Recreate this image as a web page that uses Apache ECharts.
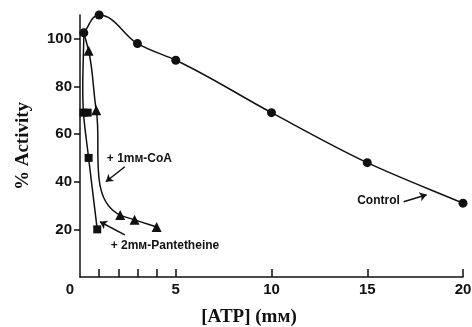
<!DOCTYPE html>
<html>
<head>
<meta charset="utf-8">
<script src="https://cdn.jsdelivr.net/npm/echarts@6/dist/echarts.min.js"></script>
<style>
  html, body { margin: 0; padding: 0; background: #fff; }
  #chart { width: 472px; height: 327px; }
</style>
</head>
<body>
<div id="chart"></div>
<script>
// [ATP] in mM, activity in %
const controlData = [[0.2, 102.5], [1, 110], [3, 98], [5, 91], [10, 69], [15, 48], [20, 31]];
// CoA and pantetheine curves both leave from the first control point
const coaData = [[0.2, 102.5], [0.45, 95], [0.85, 70], [2.1, 26], [2.85, 24], [4, 21]];
const pantData = [[0.2, 102.5], [0.18, 69], [0.45, 50], [0.9, 20]];
const pantExtra = [[0.4, 69]];

const xTicks = [1, 2, 3, 4, 5, 10, 15, 20];
const xLabels = [0, 5, 10, 15, 20];
const yLabels = [20, 40, 60, 80, 100];

// annotation arrows [from, to] and text anchors, in data units
const coaArrow = [[2.34, 46.3], [1.35, 40]];
const pantArrow = [[2.34, 17.7], [1.04, 23.2]];
const controlArrow = [[16.9, 31.6], [18.1, 34.5]];
const notes = [
  { text: "+ 1mм-CoA", at: [1.4, 49.5], align: "left" },
  { text: "+ 2mм-Pantetheine", at: [1.6, 13], align: "left" },
  { text: "Control", at: [16.7, 32], align: "right" }
];

const black = "#111";

// hand-drawn looking curve: bezier through the points, tangent from the
// parabola through neighbours, flattened at peaks
function curvePath(pts) {
  const n = pts.length;
  const norm = v => {
    const l = Math.hypot(v[0], v[1]) || 1;
    return [v[0] / l, v[1] / l];
  };
  const tan = pts.map((p, i) => {
    if (i === 0) return norm([pts[1][0] - p[0], pts[1][1] - p[1]]);
    if (i === n - 1) return norm([p[0] - pts[i - 1][0], p[1] - pts[i - 1][1]]);
    const d0 = [p[0] - pts[i - 1][0], p[1] - pts[i - 1][1]];
    const d1 = [pts[i + 1][0] - p[0], pts[i + 1][1] - p[1]];
    const l0 = Math.hypot(d0[0], d0[1]);
    const l1 = Math.hypot(d1[0], d1[1]);
    let t = [l1 * d0[0] / l0 + l0 * d1[0] / l1, l1 * d0[1] / l0 + l0 * d1[1] / l1];
    if (d0[1] * d1[1] < 0) t[1] = 0;
    return norm(t);
  });
  let d = "M" + pts[0][0] + " " + pts[0][1];
  for (let i = 0; i < n - 1; i++) {
    const a = pts[i], b = pts[i + 1];
    const l = Math.hypot(b[0] - a[0], b[1] - a[1]) / 3;
    d += " C" + (a[0] + tan[i][0] * l) + " " + (a[1] + tan[i][1] * l) + " " +
      (b[0] - tan[i + 1][0] * l) + " " + (b[1] - tan[i + 1][1] * l) + " " + b[0] + " " + b[1];
  }
  return d;
}

function curveSeries(arr) {
  return {
    type: "custom",
    data: arr,
    silent: true,
    z: 1,
    renderItem: (params, api) => {
      if (params.dataIndex !== 0) return null;
      const pts = arr.map(p => api.coord(p));
      return {
        type: "path",
        shape: { pathData: curvePath(pts) },
        style: { fill: null, stroke: black, lineWidth: 1.5 }
      };
    }
  };
}

function markers(arr, symbol, size) {
  return {
    type: "scatter",
    data: arr,
    symbol: symbol,
    symbolSize: size,
    z: 3,
    itemStyle: { color: black, opacity: 1 }
  };
}

function arrow(pair) {
  return [{ coord: pair[0], symbol: "none" }, { coord: pair[1], symbol: "arrow" }];
}

let mychart = echarts.init(document.getElementById("chart"));
let controlMarks = markers(controlData, "circle", 9);
controlMarks.markLine = {
  silent: true,
  symbolSize: 7,
  label: { show: false },
  lineStyle: { color: black, width: 1.5, type: "solid" },
  data: [arrow(coaArrow), arrow(pantArrow), arrow(controlArrow)]
};

let option = {
  animation: false,
  grid: { left: 80, right: 9, top: 15, bottom: 50, outerBoundsMode: "none" },
  xAxis: {
    type: "value",
    min: 0,
    max: 20,
    interval: 1,
    name: "[ATP] (mм)",
    nameLocation: "middle",
    nameGap: 31,
    nameTextStyle: {
      fontFamily: "Liberation Serif",
      fontWeight: "bold",
      fontSize: 19,
      color: black,
      padding: [0, 45, 0, 0]
    },
    axisLine: { lineStyle: { color: black, width: 1.5 } },
    axisTick: { inside: true, length: 8, customValues: xTicks, lineStyle: { color: black, width: 1.5 } },
    axisLabel: {
      customValues: xLabels,
      margin: 5,
      fontFamily: "Liberation Sans",
      fontWeight: "bold",
      fontSize: 15,
      color: black,
      formatter: v => (v === 0 ? "{z|0}" : String(v)),
      rich: { z: { fontFamily: "Liberation Sans", fontWeight: "bold", fontSize: 15, color: black, padding: [0, 20, 0, 0] } }
    },
    splitLine: { show: false }
  },
  yAxis: {
    type: "value",
    min: 0,
    max: 110,
    interval: 10,
    name: "% Activity",
    nameLocation: "middle",
    nameGap: 47,
    nameTextStyle: {
      fontFamily: "Liberation Serif",
      fontWeight: "bold",
      fontSize: 19,
      color: black
    },
    axisLine: { show: true, lineStyle: { color: black, width: 1.5 } },
    axisTick: { show: true, length: 6, customValues: yLabels, lineStyle: { color: black, width: 1.5 } },
    axisLabel: {
      customValues: yLabels,
      margin: 8,
      fontFamily: "Liberation Sans",
      fontWeight: "bold",
      fontSize: 15,
      color: black
    },
    splitLine: { show: false }
  },
  series: [
    curveSeries(controlData),
    curveSeries(coaData),
    curveSeries(pantData),
    controlMarks,
    markers(coaData.slice(1), "triangle", 10),
    markers(pantData.slice(1), "rect", 8),
    markers(pantExtra, "rect", 8)
  ]
};
mychart.setOption(option);

// annotation texts placed through the chart's own coordinate conversion
mychart.setOption({
  graphic: notes.map(n => {
    const p = mychart.convertToPixel({ gridIndex: 0 }, n.at);
    return {
      type: "text",
      x: p[0],
      y: p[1],
      style: {
        text: n.text,
        align: n.align,
        verticalAlign: "middle",
        fontFamily: "Liberation Sans",
        fontWeight: "bold",
        fontSize: 12,
        fill: black
      }
    };
  })
});
</script>
</body>
</html>
